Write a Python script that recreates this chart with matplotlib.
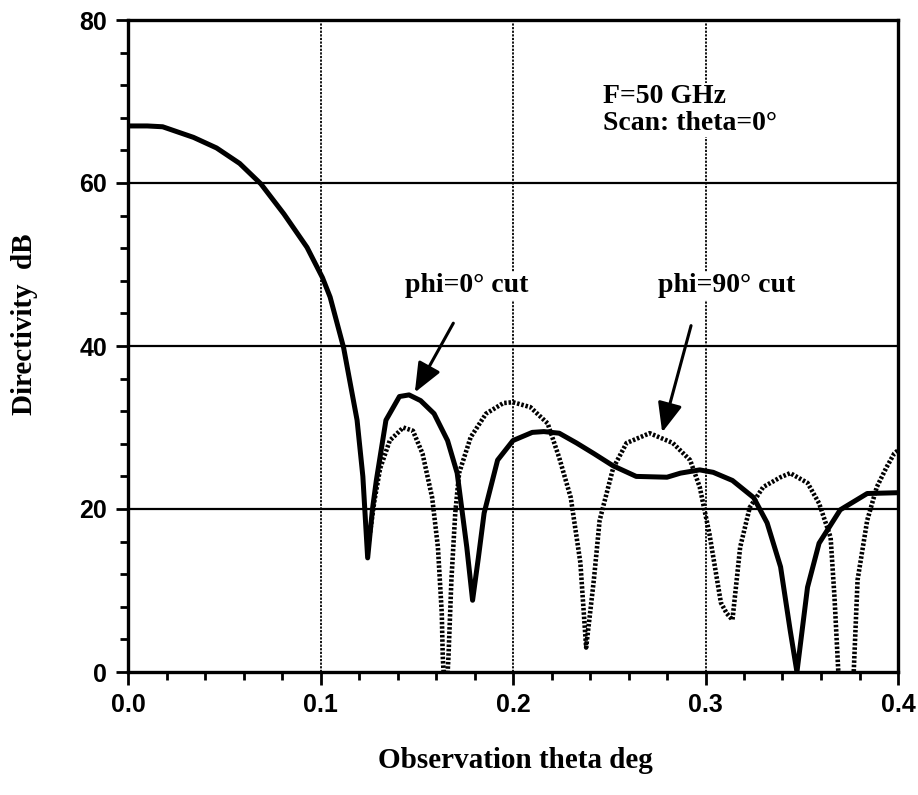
import matplotlib
matplotlib.use("Agg")
import matplotlib.pyplot as plt
from matplotlib.ticker import MultipleLocator

# phi=0 deg cut (solid)
solid_x = [0.0, 0.01, 0.018, 0.034, 0.046, 0.058, 0.069, 0.081, 0.093, 0.101, 0.105,
           0.112, 0.119, 0.122, 0.1245, 0.127, 0.129, 0.134, 0.141, 0.146, 0.152, 0.159,
           0.166, 0.171, 0.176, 0.179, 0.182, 0.185, 0.192, 0.2, 0.21, 0.216, 0.224,
           0.233, 0.242, 0.252, 0.264, 0.28, 0.287, 0.297, 0.304, 0.314, 0.325, 0.332,
           0.339, 0.344, 0.3475, 0.353, 0.359, 0.37, 0.384, 0.4]
solid_y = [67, 67, 66.9, 65.6, 64.3, 62.4, 59.9, 56.2, 52.1, 48.4, 46,
           39.8, 30.9, 24, 14, 20, 23.5, 30.9, 33.8, 34, 33.3, 31.7,
           28.4, 24.4, 15.3, 8.8, 14, 19.5, 26, 28.4, 29.4, 29.5, 29.3,
           28.1, 26.8, 25.3, 24, 23.9, 24.4, 24.8, 24.5, 23.5, 21.4, 18.3,
           12.9, 5.1, 0, 10.4, 15.8, 19.9, 21.9, 22]

# phi=90 deg cut (dotted)
dot_x = [0.1245, 0.128, 0.131, 0.136, 0.143, 0.148, 0.153, 0.158, 0.161, 0.163, 0.1635,
         0.165, 0.1665, 0.168, 0.17, 0.172, 0.178, 0.186, 0.195, 0.2, 0.209, 0.218,
         0.224, 0.23, 0.235, 0.238, 0.242, 0.245, 0.252, 0.259, 0.271, 0.283, 0.292,
         0.297, 0.302, 0.308, 0.311, 0.314, 0.318, 0.323, 0.33, 0.339, 0.344, 0.353,
         0.359, 0.365, 0.367, 0.369, 0.373, 0.377, 0.379, 0.384, 0.389, 0.394, 0.398, 0.4]
dot_y = [15, 21, 25, 28.4, 30, 29.6, 26.8, 21.4, 15.3, 7.2, 2,
         -5, 2, 11.3, 19.5, 24.4, 28.8, 31.7, 33, 33.1, 32.5, 30.5,
         26.3, 21.4, 13.4, 3, 11.3, 18.6, 25, 28.1, 29.3, 28.1, 26,
         22.7, 17, 8.5, 7.2, 6.4, 15.3, 20.2, 22.7, 23.9, 24.4, 23.2,
         20.7, 16.5, 9.2, 0, -5, 0, 11.3, 18.6, 22.7, 25.1, 26.8, 27.2]

x_ticks = [0.0, 0.1, 0.2, 0.3, 0.4]
x_ticklabels = ["0.0", "0.1", "0.2", "0.3", "0.4"]
y_ticks = [0, 20, 40, 60, 80]
y_ticklabels = ["0", "20", "40", "60", "80"]

W, H = 918, 795
fig = plt.figure(figsize=(W / 100, H / 100), dpi=100)
ax = fig.add_axes([128 / W, 1 - 672 / H, (898 - 128) / W, (672 - 20) / H])

ax.set_xlim(0, 0.4)
ax.set_ylim(0, 80)

# grid
for yv in [20, 40, 60]:
    ax.axhline(yv, color="black", lw=1.6, zorder=1)
for xv in [0.1, 0.2, 0.3]:
    ax.axvline(xv, color="black", lw=1.3, ls=(0, (1.2, 0.8)), zorder=1)

ax.plot(dot_x, dot_y, color="black", lw=3.3, ls=(0, (0.55, 0.4)),
        dash_capstyle="butt", zorder=2)
ax.plot(solid_x, solid_y, color="black", lw=3.6, solid_joinstyle="round", zorder=3)

for s in ax.spines.values():
    s.set_linewidth(2.4)

ax.set_xticks(x_ticks)
ax.set_xticklabels(x_ticklabels)
ax.set_yticks(y_ticks)
ax.set_yticklabels(y_ticklabels)
ax.xaxis.set_minor_locator(MultipleLocator(0.02))
ax.yaxis.set_minor_locator(MultipleLocator(4))
ax.tick_params(axis="both", which="major", direction="out", length=9, width=2,
               labelsize=18, pad=6)
ax.tick_params(axis="both", which="minor", direction="out", length=6, width=2)
for lab in ax.get_xticklabels() + ax.get_yticklabels():
    lab.set_family("Liberation Sans")
    lab.set_fontweight("bold")

serif = "Liberation Serif"
fig.text(515 / W, 1 - 768 / H, "Observation theta deg", family=serif,
         fontweight="bold", fontsize=21, ha="center", va="baseline")
fig.text(25 / W, 1 - 324 / H, "Directivity  dB", family=serif, fontweight="bold",
         fontsize=21, ha="center", va="center", rotation=90)

box = dict(facecolor="white", edgecolor="none", pad=1)
ax.text(0.2468, 69.8, "F=50 GHz", family=serif, fontweight="bold", fontsize=20,
        ha="left", va="baseline", bbox=box, zorder=4)
ax.text(0.2468, 66.5, "Scan: theta=0\u00b0", family=serif, fontweight="bold",
        fontsize=20, ha="left", va="baseline", bbox=box, zorder=4)
ax.text(0.1439, 46.6, "phi=0\u00b0 cut", family=serif, fontweight="bold",
        fontsize=20, ha="left", va="baseline", bbox=box, zorder=4)
ax.text(0.2753, 46.6, "phi=90\u00b0 cut", family=serif, fontweight="bold",
        fontsize=20, ha="left", va="baseline", bbox=box, zorder=4)

arrowprops = dict(arrowstyle="-|>,head_length=1.8,head_width=0.75", color="black",
                  lw=2.2, shrinkA=0, shrinkB=0)
ax.annotate("", xy=(0.149, 34.3), xytext=(0.169, 42.8), arrowprops=arrowprops)
ax.annotate("", xy=(0.2775, 29.4), xytext=(0.2925, 42.5), arrowprops=arrowprops)

fig.savefig("out.png", dpi=100)
